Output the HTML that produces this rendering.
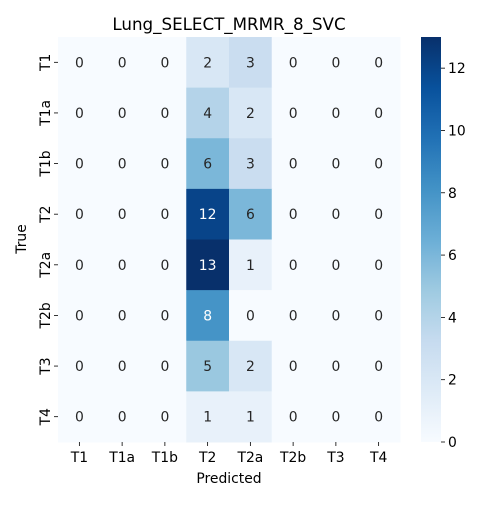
<!DOCTYPE html>
<html><head><meta charset="utf-8"><style>
body{margin:0;background:#fff;}
text{font-family:"DejaVu Sans","Liberation Sans",sans-serif;}
</style></head><body>
<svg id="chart" width="500" height="500" xmlns="http://www.w3.org/2000/svg">
<defs><linearGradient id="cb" x1="0" y1="1" x2="0" y2="0"></linearGradient></defs>
<text x="229" y="30" font-size="16.7" text-anchor="middle">Lung_SELECT_MRMR_8_SVC</text>
<g id="cells"></g>
<g id="axes"></g>
<rect x="421" y="37" width="20" height="405" fill="url(#cb)"/>
<text x="229" y="483" font-size="13.9" text-anchor="middle">Predicted</text>
<text transform="translate(26,239) rotate(-90)" font-size="13.9" text-anchor="middle">True</text>
</svg>
<script>
const xLabels=["T1","T1a","T1b","T2","T2a","T2b","T3","T4"];
const yLabels=["T1","T1a","T1b","T2","T2a","T2b","T3","T4"];
const matrix=[
[0,0,0,2,3,0,0,0],
[0,0,0,4,2,0,0,0],
[0,0,0,6,3,0,0,0],
[0,0,0,12,6,0,0,0],
[0,0,0,13,1,0,0,0],
[0,0,0,8,0,0,0,0],
[0,0,0,5,2,0,0,0],
[0,0,0,1,1,0,0,0]];
const cbTicks=[0,2,4,6,8,10,12];
const vmin=0,vmax=13;
const X0=58,X1=400,Y0=37,Y1=442;
const stops=["#f7fbff","#deebf7","#c6dbef","#9ecae1","#6baed6","#4292c6","#2171b5","#08519c","#08306b"];
function hex(h){return [1,3,5].map(i=>parseInt(h.substr(i,2),16));}
function cmap(t){t=Math.max(0,Math.min(1,t));const p=t*8,i=Math.min(7,Math.floor(p)),f=p-i;const a=hex(stops[i]),b=hex(stops[i+1]);return a.map((v,k)=>Math.round(v+(b[k]-v)*f));}
function lum(c){const l=c.map(v=>{v/=255;return v<=0.03928?v/12.92:Math.pow((v+0.055)/1.055,2.4);});return 0.2126*l[0]+0.7152*l[1]+0.0722*l[2];}
const cw=(X1-X0)/xLabels.length,ch=(Y1-Y0)/yLabels.length;
const xs=i=>X0+i*cw, ys=j=>Y0+j*ch;
const cy=v=>Y1-(v-vmin)/(vmax-vmin)*(Y1-Y0);
const NS="http://www.w3.org/2000/svg";
function mk(tag,attrs,parent){const e=document.createElementNS(NS,tag);for(const k in attrs)e.setAttribute(k,attrs[k]);parent.appendChild(e);return e;}
const cells=document.getElementById('cells'),axes=document.getElementById('axes');
matrix.forEach((row,j)=>row.forEach((v,i)=>{
 const c=cmap((v-vmin)/(vmax-vmin));
 const r=mk('rect',{x:xs(i),y:ys(j),width:cw+0.5,height:ch+0.5,fill:`rgb(${c})`},cells);
 
 
 const t=mk('text',{x:xs(i)+cw/2,y:ys(j)+ch/2+5,'font-size':13.9,'text-anchor':'middle',fill:lum(c)<0.408?'#fff':'#262626'},cells);
 t.textContent=v;
 
 
}));
xLabels.forEach((l,i)=>{
 const x=xs(i)+cw/2;
 mk('line',{x1:x,x2:x,y1:Y1,y2:Y1+4,stroke:'#000','stroke-width':0.8},axes);
 const t=mk('text',{x:x,y:Y1+20,'font-size':13.9,'text-anchor':'middle'},axes);
 t.textContent=l;
 
 
});
yLabels.forEach((l,j)=>{
 const y=ys(j)+ch/2;
 mk('line',{x1:X0-4,x2:X0,y1:y,y2:y,stroke:'#000','stroke-width':0.8},axes);
 const t=mk('text',{'font-size':13.9,'text-anchor':'middle',transform:`translate(${X0-8},${y}) rotate(-90)`},axes);
 t.textContent=l;
 
 
});
const g=document.getElementById('cb');
for(let k=0;k<=16;k++){const c=cmap(k/16);mk('stop',{offset:k/16,'stop-color':`rgb(${c})`},g);}
cbTicks.forEach(v=>{
 const y=cy(v);
 mk('line',{x1:441,x2:445,y1:y,y2:y,stroke:'#000','stroke-width':0.8},axes);
 const t=mk('text',{x:448,y:y+5,'font-size':13.9},axes);
 t.textContent=v;
 
 
});
</script>
</body></html>
